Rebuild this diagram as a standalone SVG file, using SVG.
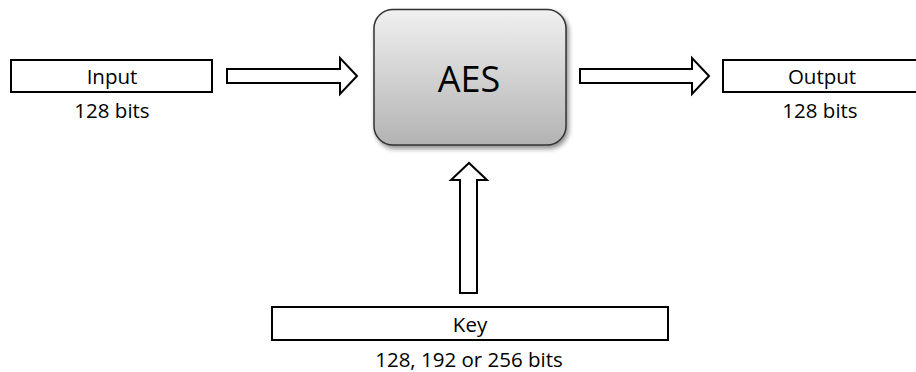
<svg xmlns="http://www.w3.org/2000/svg" width="916" height="372" viewBox="0 0 916 372">
  <defs>
    <linearGradient id="aesGrad" x1="0" y1="0" x2="0" y2="1">
      <stop offset="0" stop-color="#f0f0f0"/>
      <stop offset="1" stop-color="#b3b3b3"/>
    </linearGradient>
    <filter id="shadow" x="-10%" y="-10%" width="125%" height="130%">
      <feGaussianBlur in="SourceAlpha" stdDeviation="2.5"/>
      <feOffset dx="2" dy="3" result="b"/>
      <feComponentTransfer><feFuncA type="linear" slope="0.45"/></feComponentTransfer>
      <feMerge><feMergeNode/><feMergeNode in="SourceGraphic"/></feMerge>
    </filter>
    <style>
      .box { fill: #ffffff; stroke: #000000; stroke-width: 2; }
      .arrow { fill: #ffffff; stroke: #000000; stroke-width: 2; stroke-linejoin: miter; }
      .lbl { font-family: "Open Sans", "Liberation Sans", sans-serif; font-size: 20.5px; fill: #000000; text-anchor: middle; }
      .big { font-family: "Open Sans", "Liberation Sans", sans-serif; font-size: 36px; fill: #000000; text-anchor: middle; }
    </style>
  </defs>
  <rect width="916" height="372" fill="#ffffff"/>

  <g id="input">
    <rect class="box" x="11" y="60" width="201" height="32"/>
    <text class="lbl" x="112" y="84">Input</text>
    <text class="lbl" x="112" y="118">128 bits</text>
  </g>

  <g id="aes">
    <rect x="374" y="9.5" width="192" height="135.5" rx="19" ry="19" fill="url(#aesGrad)" stroke="#333333" stroke-width="1.5" filter="url(#shadow)"/>
    <text class="big" x="469" y="92">AES</text>
  </g>

  <g id="output">
    <rect class="box" x="723" y="60" width="200" height="32"/>
    <text class="lbl" x="822" y="84">Output</text>
    <text class="lbl" x="820" y="118">128 bits</text>
  </g>

  <g id="key">
    <rect class="box" x="272" y="307" width="396" height="33"/>
    <text class="lbl" x="470" y="332">Key</text>
    <text class="lbl" x="469" y="367">128, 192 or 256 bits</text>
  </g>

  <g id="connectors">
    <polygon class="arrow" points="227,69 340,69 340,58 357,76 340,94 340,83 227,83"/>
    <polygon class="arrow" points="580,69 692,69 692,58 709,76 692,94 692,83 580,83"/>
    <polygon class="arrow" points="460,293 460,180 451,180 469,163 487,180 477,180 477,293"/>
  </g>
</svg>
